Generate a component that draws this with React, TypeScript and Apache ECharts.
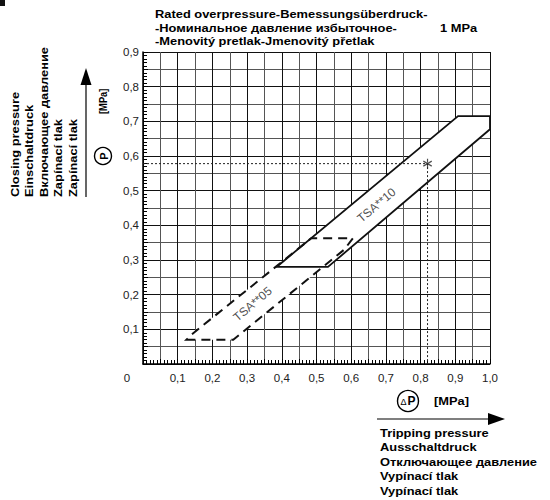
import React, { useEffect, useRef } from 'react';
import * as echarts from 'echarts';

// ---- data ----
const xMin = 0;
const xMax = 1.0;
const yMin = 0;
const yMax = 0.9;
const gridStep = 0.05;

// TSA**05 band outline (dashed)
const band05 = [
  [0.125, 0.07],
  [0.26, 0.07],
  [0.58, 0.33],
  [0.605, 0.363],
  [0.485, 0.363],
  [0.14, 0.085],
];
// TSA**10 band outline (solid)
const band10 = [
  [0.385, 0.28],
  [0.533, 0.28],
  [1.0, 0.677],
  [1.0, 0.715],
  [0.908, 0.715],
];
// reading example (dotted guide)
const refLine = [
  [0, 0.578],
  [0.82, 0.578],
  [0.82, 0],
];
const refPoint = [[0.82, 0.578]];

const bandLabels = [
  { name: 'TSA**10', value: [0.673, 0.458] },
  { name: 'TSA**05', value: [0.316, 0.173] },
];

const titleLines = [
  'Rated overpressure-Bemessungsüberdruck-',
  '-Номинальное давление избыточное-',
  '-Menovitý pretlak-Jmenovitý přetlak',
];
const ratedValue = '1 MPa';
const yTitleLines = ['Closing pressure', 'Einschaltdruck', 'Включающее давление', 'Zapínací tlak', 'Zapínací tlak'];
const xTitleLines = ['Tripping pressure', 'Ausschaltdruck', 'Отключающее давление', 'Vypínací tlak', 'Vypínací tlak'];
const unitText = '[MPa]';
const cornerLabel = '0';

const FONT = '"Liberation Sans", Arial, Helvetica, sans-serif';
const SX = 1.17;

const fmt = (v: number) => {
  const k = Math.round(v * 100);
  if (k === 0 || k % 10 !== 0) return '';
  return (k / 100).toFixed(1).replace('.', ',');
};

const asterisk =
  'path://M-0.6,-5L0.6,-5L0.6,5L-0.6,5Z M4.03,3.02L4.63,1.98L-4.03,-3.02L-4.63,-1.98Z M-4.63,1.98L-4.03,3.02L4.63,-1.98L4.03,-3.02Z';

const polyItem = (pts: number[][], style: any) => (params: any, api: any) => {
  if (params.dataIndex !== 0) return null;
  return {
    type: 'polygon',
    shape: { points: pts.map((p) => api.coord(p)) },
    style,
  };
};

const boldText = (id: string, text: string, x: number, y: number, extra: any = {}) => ({
  type: 'text',
  id,
  x,
  y,
  scaleX: SX,
  ...extra,
  style: {
    text,
    font: `bold 11px ${FONT}`,
    fill: '#000',
    textAlign: 'left',
    textVerticalAlign: 'middle',
    ...(extra.style || {}),
  },
});

export default function App() {
  const ref = useRef<HTMLDivElement>(null);

  useEffect(() => {
    if (!ref.current) return;
    const chart = echarts.init(ref.current, undefined, { renderer: 'svg' });

    const axisCommon = {
      type: 'value',
      interval: gridStep,
      axisLine: { show: true, onZero: false, lineStyle: { color: '#000', width: 1.5 } },
      axisTick: { show: true, inside: true, length: 5, lineStyle: { color: '#000', width: 1 } },
      minorTick: { show: true, splitNumber: 5, length: 4, lineStyle: { color: '#000', width: 1 } },
      splitLine: { show: true, lineStyle: { color: ['#111', '#555'], width: 1 } },
      axisLabel: { formatter: fmt, color: '#222', fontFamily: FONT, fontSize: 11.5 },
    };

    const graphics: any[] = [];
    titleLines.forEach((t, i) => graphics.push(boldText('title' + i, t, 155, 14.5 + i * 13.5)));
    graphics.push(boldText('rated', ratedValue, 440, 28));
    yTitleLines.forEach((t, i) =>
      graphics.push(boldText('yt' + i, t, 15 + i * 14.5, 197, { rotation: Math.PI / 2 }))
    );
    xTitleLines.forEach((t, i) => graphics.push(boldText('xt' + i, t, 380, 433 + i * 14.5)));
    // corner zero
    graphics.push({
      type: 'text',
      id: 'corner0',
      x: 127,
      y: 378,
      style: { text: cornerLabel, font: `11.5px ${FONT}`, fill: '#222', textAlign: 'center', textVerticalAlign: 'middle' },
    });
    // vertical arrow
    graphics.push({ type: 'line', id: 'yArrowLine', shape: { x1: 86, y1: 197, x2: 86, y2: 80 }, style: { stroke: '#000', lineWidth: 1.2 } });
    graphics.push({ type: 'polygon', id: 'yArrowHead', shape: { points: [[86, 68], [80.5, 85], [91.5, 85]] }, style: { fill: '#000' } });
    // P circle
    graphics.push({ type: 'circle', id: 'pCircle', shape: { cx: 103, cy: 156, r: 8.5 }, style: { fill: '#fff', stroke: '#000', lineWidth: 1.4 } });
    graphics.push({
      type: 'text', id: 'pText', x: 103.5, y: 156, rotation: Math.PI / 2,
      style: { text: 'P', font: `bold 11px ${FONT}`, fill: '#000', textAlign: 'center', textVerticalAlign: 'middle' },
    });
    graphics.push({
      type: 'text', id: 'yUnit', x: 103, y: 114, rotation: Math.PI / 2, scaleX: 0.85,
      style: { text: unitText, font: `bold 11px ${FONT}`, fill: '#000', textAlign: 'left', textVerticalAlign: 'middle' },
    });
    // delta P circle
    graphics.push({ type: 'circle', id: 'dpCircle', shape: { cx: 408, cy: 401, r: 10.5 }, style: { fill: '#fff', stroke: '#000', lineWidth: 1.4 } });
    graphics.push({
      type: 'text', id: 'dText', x: 403.5, y: 402,
      style: { text: 'Δ', font: `9px ${FONT}`, fill: '#000', textAlign: 'center', textVerticalAlign: 'middle' },
    });
    graphics.push({
      type: 'text', id: 'dpText', x: 411.5, y: 401,
      style: { text: 'P', font: `bold 12px ${FONT}`, fill: '#000', textAlign: 'center', textVerticalAlign: 'middle' },
    });
    graphics.push(boldText('xUnit', unitText, 434, 401));
    // horizontal arrow
    graphics.push({ type: 'line', id: 'xArrowLine', shape: { x1: 377, y1: 419, x2: 492, y2: 419 }, style: { stroke: '#000', lineWidth: 1.2 } });
    graphics.push({ type: 'polygon', id: 'xArrowHead', shape: { points: [[505, 419], [488, 413], [488, 425]] }, style: { fill: '#000' } });
    // scan artefact in the corner
    graphics.push({ type: 'rect', id: 'mark', shape: { x: 0, y: 0, width: 5, height: 6 }, style: { fill: '#111' } });

    chart.setOption({
      animation: false,
      backgroundColor: '#fff',
      grid: { left: 143, top: 52, width: 347, height: 312, containLabel: false },
      xAxis: { ...axisCommon, min: xMin, max: xMax, axisLabel: { ...axisCommon.axisLabel, margin: 8 } },
      yAxis: { ...axisCommon, min: yMin, max: yMax, axisLabel: { ...axisCommon.axisLabel, margin: 4 } },
      graphic: { elements: graphics },
      series: [
        {
          type: 'custom',
          name: 'fill05',
          data: band05,
          renderItem: polyItem(band05, { fill: '#fff', stroke: null }),
          silent: true,
          z: 2,
        },
        {
          type: 'custom',
          name: 'fill10',
          data: band10,
          renderItem: polyItem(band10, { fill: '#fff', stroke: null }),
          silent: true,
          z: 2,
        },
        {
          type: 'custom',
          name: 'TSA**05',
          data: band05,
          renderItem: polyItem(band05, { fill: 'none', stroke: '#111', lineWidth: 2, lineDash: [9, 6] }),
          silent: true,
          z: 3,
        },
        {
          type: 'custom',
          name: 'TSA**10',
          data: band10,
          renderItem: polyItem(band10, { fill: 'none', stroke: '#111', lineWidth: 1.8 }),
          silent: true,
          z: 3,
        },
        {
          type: 'line',
          name: 'ref',
          data: refLine,
          symbol: 'none',
          lineStyle: { color: '#222', width: 1, type: [2, 2] },
          z: 4,
        },
        {
          type: 'scatter',
          name: 'point',
          data: refPoint,
          symbol: asterisk,
          symbolSize: [9, 10],
          itemStyle: { color: '#222' },
          z: 5,
        },
        {
          type: 'scatter',
          name: 'labels',
          data: bandLabels,
          symbolSize: 0,
          label: {
            show: true,
            position: 'inside',
            formatter: (p: any) => p.name,
            rotate: 40,
            fontFamily: FONT,
            fontSize: 12,
            color: '#222',
          },
          z: 5,
        },
      ],
    });

    return () => chart.dispose();
  }, []);

  return (
    <div
      ref={ref}
      style={{ position: 'fixed', left: 0, top: 0, width: 550, height: 500, background: '#fff' }}
    />
  );
}
